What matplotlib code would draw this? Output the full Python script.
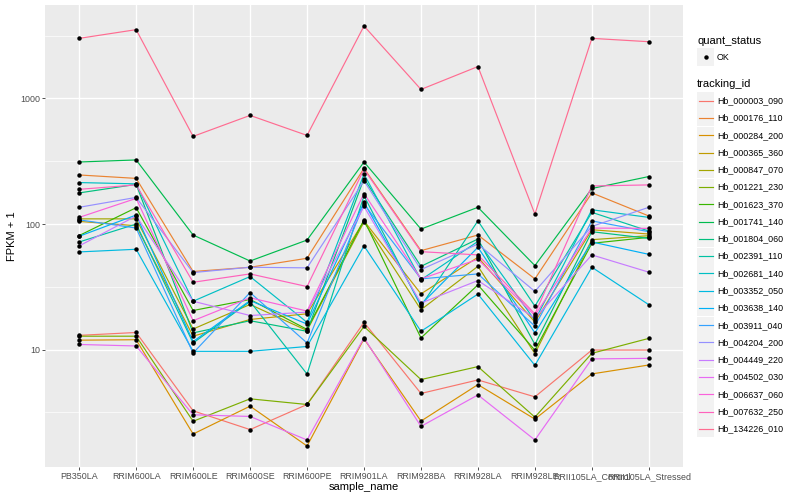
import matplotlib
matplotlib.use("Agg")
import matplotlib.pyplot as plt
from matplotlib.patches import Rectangle
from matplotlib.lines import Line2D
import numpy as np

plt.rcParams['font.family'] = ['Liberation Sans', 'DejaVu Sans']

samples = ['PB350LA', 'RRIM600LA', 'RRIM600LE', 'RRIM600SE', 'RRIM600PE', 'RRIM901LA',
           'RRIM928BA', 'RRIM928LA', 'RRIM928LE', 'RRII105LA_Control', 'RRII105LA_Stressed']

genes = ['Hb_000003_090', 'Hb_000176_110', 'Hb_000284_200', 'Hb_000365_360', 'Hb_000847_070',
         'Hb_001221_230', 'Hb_001623_370', 'Hb_001741_140', 'Hb_001804_060', 'Hb_002391_110',
         'Hb_002681_140', 'Hb_003352_050', 'Hb_003638_140', 'Hb_003911_040', 'Hb_004204_200',
         'Hb_004449_220', 'Hb_004502_030', 'Hb_006637_060', 'Hb_007632_250', 'Hb_134226_010']

# ggplot hue palette, 20 levels
colors = ['#F8766D', '#EA8331', '#D89000', '#C09B00', '#A3A500', '#7CAE00', '#39B600', '#00BB4E',
          '#00BF7D', '#00C1A3', '#00BFC4', '#00BAE0', '#00B0F6', '#35A2FF', '#9590FF', '#C77CFF',
          '#E76BF3', '#FA62DB', '#FF62BC', '#FF6C91']

# FPKM + 1, one list per gene (same order as samples)
fpkm = {
    'Hb_000003_090': [13.0, 13.7, 3.26, 2.31, 3.66, 16.5, 4.48, 5.74, 4.21, 9.93, 9.93],
    'Hb_000176_110': [246, 231, 41.9, 45.3, 53.4, 278, 61.4, 81.8, 36.6, 177, 116],
    'Hb_000284_200': [11.9, 12.0, 2.13, 3.55, 1.71, 12.2, 2.70, 5.27, 2.80, 6.41, 7.55],
    'Hb_000365_360': [105, 97, 12.8, 17.4, 19.3, 106, 27.8, 54.4, 16.6, 90.1, 83.3],
    'Hb_000847_070': [110, 110, 14.6, 22.9, 14.2, 104, 20.8, 46.1, 9.3, 75.1, 80.8],
    'Hb_001221_230': [12.8, 12.8, 2.69, 4.06, 3.66, 15.3, 5.78, 7.33, 2.90, 9.35, 12.3],
    'Hb_001623_370': [81, 135, 20.5, 25.1, 14.5, 108, 12.4, 32.8, 9.9, 70.3, 78.4],
    'Hb_001741_140': [312, 324, 81.8, 50.8, 74.6, 312, 91.2, 136, 46.7, 192, 239],
    'Hb_001804_060': [177, 207, 13.6, 17.0, 14.0, 230, 46.1, 76, 11.0, 86.9, 76.9],
    'Hb_002391_110': [72, 100, 11.3, 24.2, 6.4, 168, 22.2, 106, 22.2, 124, 88],
    'Hb_002681_140': [214, 209, 24.3, 38.2, 16.5, 250, 36.0, 72.8, 17.1, 130, 113],
    'Hb_003352_050': [60, 63, 9.7, 9.7, 10.6, 67, 14.0, 27.7, 7.5, 45.3, 22.8],
    'Hb_003638_140': [80, 118, 11.6, 24.6, 16.0, 149, 22.9, 65.3, 13.6, 72.0, 57.4],
    'Hb_003911_040': [108, 93, 9.4, 28.5, 11.3, 144, 36.6, 40.1, 15.4, 106, 86.9],
    'Hb_004204_200': [136, 163, 41.1, 45.3, 44.8, 221, 43.4, 69.3, 29.1, 95.8, 136],
    'Hb_004449_220': [67, 116, 24.3, 18.7, 19.9, 138, 23.5, 35.5, 17.8, 56.8, 41.4],
    'Hb_004502_030': [11.0, 10.7, 3.03, 2.94, 1.91, 12.4, 2.45, 4.36, 1.91, 8.44, 8.53],
    'Hb_006637_060': [113, 160, 17.0, 25.9, 20.3, 175, 36.6, 52.4, 18.7, 92.9, 92.4],
    'Hb_007632_250': [189, 205, 34.4, 40.1, 31.8, 273, 60.3, 56.8, 19.3, 201, 205],
    'Hb_134226_010': [3010, 3530, 499, 733, 508, 3775, 1180, 1795, 120, 3010, 2830],
}

W, H = 800, 500
fig = plt.figure(figsize=(8, 5), dpi=100)
ax = fig.add_axes([45 / W, 1 - 467 / H, (683 - 45) / W, (467 - 5) / H])
ax.set_facecolor('#EBEBEB')

x = np.arange(len(samples))
for g, c in zip(genes, colors):
    ax.plot(x, fpkm[g], color=c, lw=0.85, zorder=2)
for g in genes:
    ax.plot(x, fpkm[g], 'o', color='black', ms=3.2, mew=0, zorder=3)

ax.set_yscale('log')
allv = np.log10(np.concatenate([fpkm[g] for g in genes]))
lo, hi = allv.min(), allv.max()
pad = 0.05 * (hi - lo)
ax.set_ylim(10 ** (lo - pad), 10 ** (hi + pad))
ax.set_xlim(-0.6, len(samples) - 0.4)

ax.set_yticks([10, 100, 1000])
ax.set_yticklabels(['10', '100', '1000'])
ax.yaxis.set_minor_locator(matplotlib.ticker.FixedLocator([10 ** 0.5, 10 ** 1.5, 10 ** 2.5, 10 ** 3.5]))
ax.yaxis.set_minor_formatter(matplotlib.ticker.NullFormatter())
ax.tick_params(axis='y', which='minor', length=0)
ax.set_xticks(x)
ax.set_xticklabels(samples)
ax.tick_params(axis='both', which='major', length=2.2, width=0.6, color='#333333',
               labelsize=6.4, labelcolor='#4D4D4D', pad=1.5)

ax.grid(True, which='major', color='white', lw=1.0)
ax.grid(True, which='minor', axis='y', color='white', lw=0.5)
ax.set_axisbelow(True)
for s in ax.spines.values():
    s.set_visible(False)

ax.set_xlabel('sample_name', fontsize=8)
ax.set_ylabel('FPKM + 1', fontsize=8)
ax.xaxis.set_label_coords(0.5, -(487 - 467) / 462)
ax.xaxis.label.set_va('center')
ax.yaxis.set_label_coords(-(45 - 12) / 638, 0.5)
ax.yaxis.label.set_va('center')


# legend, drawn by hand in pixel coordinates
def fx(px):
    return px / W


def fy(py):
    return 1 - py / H


kx0, kw = 697, 17
fig.text(fx(697), fy(41), 'quant_status', fontsize=8, va='center', ha='left')
fig.patches.append(Rectangle((fx(kx0), fy(57 + kw / 2)), kw / W, kw / H,
                             transform=fig.transFigure, facecolor='#F2F2F2', edgecolor='none'))
fig.lines.append(Line2D([fx(kx0 + kw / 2)], [fy(57)], marker='o', color='black', ms=3.2, mew=0,
                        transform=fig.transFigure))
fig.text(fx(717), fy(57), 'OK', fontsize=6.4, va='center', ha='left')

fig.text(fx(697), fy(84), 'tracking_id', fontsize=8, va='center', ha='left')
for i, (g, c) in enumerate(zip(genes, colors)):
    yc = 100.7 + i * 17.27
    fig.patches.append(Rectangle((fx(kx0), fy(yc + kw / 2)), kw / W, kw / H,
                                 transform=fig.transFigure, facecolor='#F2F2F2', edgecolor='none'))
    fig.lines.append(Line2D([fx(kx0 + 1.5), fx(kx0 + kw - 1.5)], [fy(yc), fy(yc)], color=c, lw=0.85,
                            transform=fig.transFigure))
    fig.text(fx(717), fy(yc), g, fontsize=6.4, va='center', ha='left')

fig.savefig('out.png', dpi=100)
